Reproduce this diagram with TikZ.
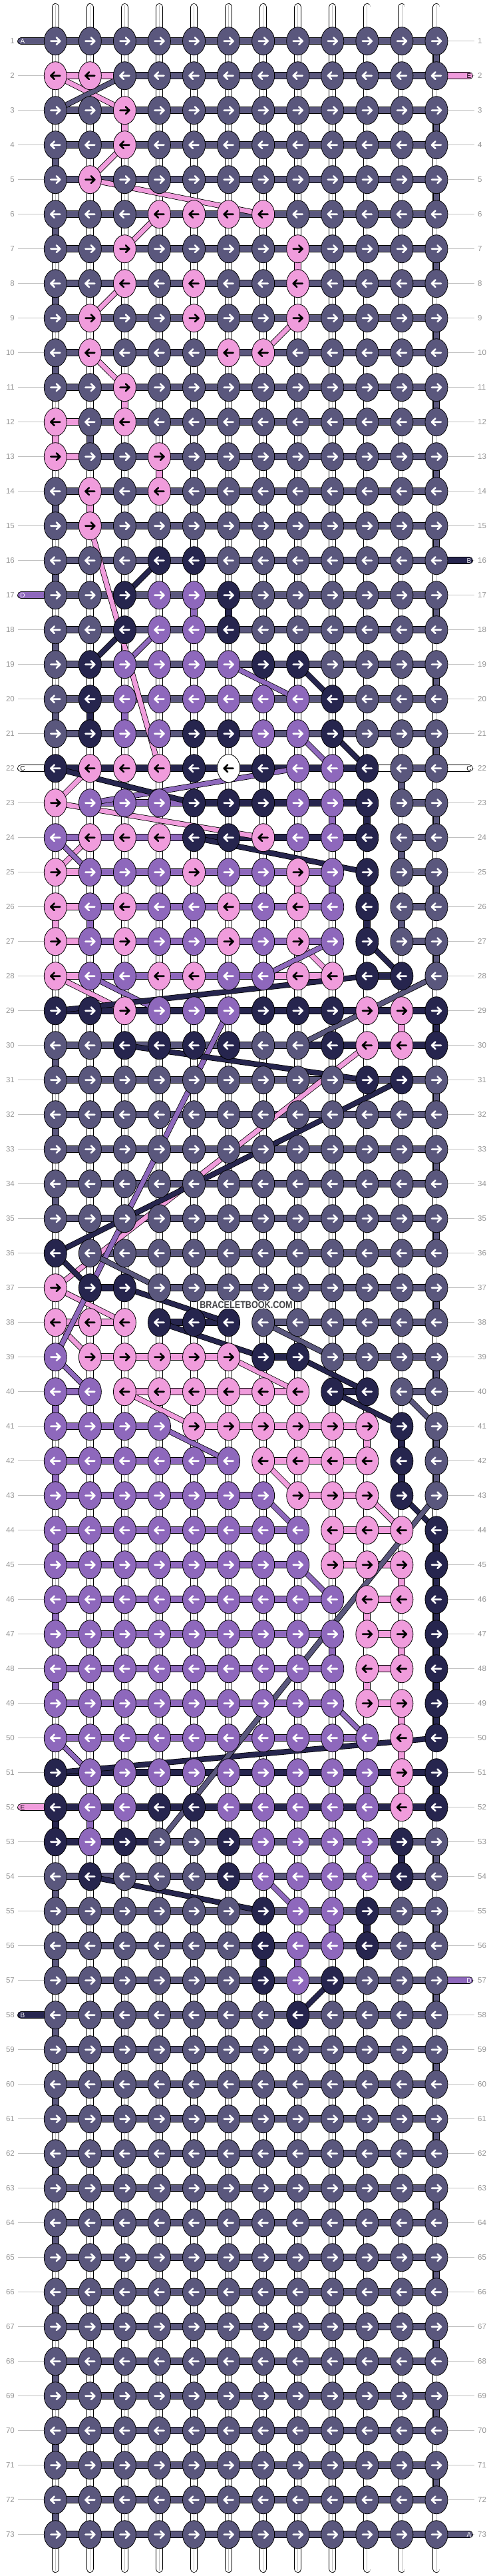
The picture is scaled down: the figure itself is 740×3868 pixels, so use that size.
\documentclass[tikz,border=0pt]{standalone}
\usepackage{fontspec}
\setmainfont{Liberation Sans}
\usetikzlibrary{shapes.geometric}
\pgfdeclarelayer{bg}
\pgfdeclarelayer{bands}
\pgfdeclarelayer{conns}
\pgfsetlayers{bg,bands,conns,main}

\definecolor{cA}{RGB}{90,87,125}
\definecolor{cB}{RGB}{38,37,78}
\definecolor{cC}{RGB}{255,255,255}
\definecolor{cD}{RGB}{142,104,188}
\definecolor{cE}{RGB}{240,156,220}
\colorlet{tA}{white}\colorlet{tB}{white}\colorlet{tC}{black}\colorlet{tD}{white}\colorlet{tE}{black}
\definecolor{labgray}{RGB}{150,150,150}
\definecolor{linegray}{RGB}{192,192,192}
\definecolor{wmgray}{RGB}{66,66,70}

\makeatletter
\newcount\gcol
\def\storerow#1#2{\global\gcol=0 \xdef\cur@row{#1}\store@aux#2\@nil}
\def\store@aux#1{\ifx#1\@nil\let\next@s\relax\else\global\advance\gcol by 1 \expandafter\xdef\csname K-\cur@row-\the\gcol\endcsname{#1}\let\next@s\store@aux\fi\next@s}
\makeatother

\storerow{1}{AAAAAAAAAAAA}
\storerow{2}{EEAAAAAAAAAA}
\storerow{3}{AAEAAAAAAAAA}
\storerow{4}{AAEAAAAAAAAA}
\storerow{5}{AEAAAAAAAAAA}
\storerow{6}{AAAEEEEAAAAA}
\storerow{7}{AAEAAAAEAAAA}
\storerow{8}{AAEAEAAEAAAA}
\storerow{9}{AEAAEAAEAAAA}
\storerow{10}{AEAAAEEAAAAA}
\storerow{11}{AAEAAAAAAAAA}
\storerow{12}{EAEAAAAAAAAA}
\storerow{13}{EAAEAAAAAAAA}
\storerow{14}{AEAEAAAAAAAA}
\storerow{15}{AEAAAAAAAAAA}
\storerow{16}{AAABBAAAAAAA}
\storerow{17}{AABDDBAAAAAA}
\storerow{18}{AABDDBAAAAAA}
\storerow{19}{ABDDDDBBAAAA}
\storerow{20}{ABDDDDDDBAAA}
\storerow{21}{ABDDBBDDBAAA}
\storerow{22}{BEEEBCBDDBAA}
\storerow{23}{EDDDBBBDDBAA}
\storerow{24}{DEEEBBEDDBAA}
\storerow{25}{EDDDEDDEDBAA}
\storerow{26}{EDEDDEDEDBAA}
\storerow{27}{EDEDDEDEDBAA}
\storerow{28}{EDDEEDDEEBBA}
\storerow{29}{BBEDDDBBBEEB}
\storerow{30}{AABBBBAABEEB}
\storerow{31}{AAAAAAAAABBA}
\storerow{32}{AAAAAAAAAAAA}
\storerow{33}{AAAAAAAAAAAA}
\storerow{34}{AAAAAAAAAAAA}
\storerow{35}{AAAAAAAAAAAA}
\storerow{36}{BAAAAAAAAAAA}
\storerow{37}{EBBAAAAAAAAA}
\storerow{38}{EEEBBBAAAAAA}
\storerow{39}{DEEEEEBBAAAA}
\storerow{40}{DDEEEEEEBBAA}
\storerow{41}{DDDDEEEEEEBA}
\storerow{42}{DDDDDDEEEEBA}
\storerow{43}{DDDDDDDEEEBA}
\storerow{44}{DDDDDDDDEEEB}
\storerow{45}{DDDDDDDDEEEB}
\storerow{46}{DDDDDDDDDEEB}
\storerow{47}{DDDDDDDDDEEB}
\storerow{48}{DDDDDDDDDEEB}
\storerow{49}{DDDDDDDDDEEB}
\storerow{50}{DDDDDDDDDDEB}
\storerow{51}{BDDDDDDDDDEB}
\storerow{52}{BDDBBDDDDDEB}
\storerow{53}{BDBAABDDDDBA}
\storerow{54}{ABAAABDDDDBA}
\storerow{55}{AAAAAABDDBAA}
\storerow{56}{AAAAAABDDBAA}
\storerow{57}{AAAAAABDBAAA}
\storerow{58}{AAAAAAABAAAA}
\storerow{59}{AAAAAAAAAAAA}
\storerow{60}{AAAAAAAAAAAA}
\storerow{61}{AAAAAAAAAAAA}
\storerow{62}{AAAAAAAAAAAA}
\storerow{63}{AAAAAAAAAAAA}
\storerow{64}{AAAAAAAAAAAA}
\storerow{65}{AAAAAAAAAAAA}
\storerow{66}{AAAAAAAAAAAA}
\storerow{67}{AAAAAAAAAAAA}
\storerow{68}{AAAAAAAAAAAA}
\storerow{69}{AAAAAAAAAAAA}
\storerow{70}{AAAAAAAAAAAA}
\storerow{71}{AAAAAAAAAAAA}
\storerow{72}{AAAAAAAAAAAA}
\storerow{73}{AAAAAAAAAAAA}

\newcount\tmin \newcount\tmax \newcount\prr \newcount\prc \newcount\tfc \newcount\tlc

\newcommand\threadrow[1]{%
  \edef\fcol{\the\tfc}\edef\lcol{\the\tlc}%
  \ifnum\prr=0
    \ifodd\ri\relax\def\sidemark{L}\else\def\sidemark{R}\fi
    \begin{pgfonlayer}{bands}
      \draw[band, double=c#1, line cap=round] (\sidemark-\ri) -- (k-\ri-\fcol.center);
    \end{pgfonlayer}
    \node[taillab, text=t#1] at (\sidemark lab-\ri) {#1};
  \else
    \edef\ppr{\the\prr}\edef\ppc{\the\prc}%
    \def\cwid{6.8pt}%
    \ifnum\numexpr\prr+1\relax=\ri\relax\ifnum\prc=\tfc\def\cwid{8.9pt}\fi\fi
    \begin{pgfonlayer}{conns}
      \draw[conn, double=c#1, double distance=\cwid] (k-\ppr-\ppc.center) -- (k-\ri-\fcol.center);
    \end{pgfonlayer}
  \fi
  \ifnum\tfc=\tlc\else
    \begin{pgfonlayer}{bands}
      \draw[band, double=c#1] (k-\ri-\fcol.center) -- (k-\ri-\lcol.center);
    \end{pgfonlayer}
  \fi
  \global\prr=\ri\relax\global\prc=\tlc
}

\newcommand\threadend[1]{%
  \edef\ppr{\the\prr}\edef\ppc{\the\prc}%
  \ifodd\prr\def\sidemark{R}\else\def\sidemark{L}\fi
  \begin{pgfonlayer}{bands}
    \draw[band, double=c#1, line cap=round] (k-\ppr-\ppc.center) -- (\sidemark-\ppr);
  \end{pgfonlayer}
  \node[taillab, text=t#1] at (\sidemark lab-\ppr) {#1};
}

\newcommand\dothread[1]{%
  \global\prr=0 \global\prc=0
  \foreach \ri in {1,...,73}{%
    \global\tmin=0 \global\tmax=0
    \foreach \ci in {1,...,12}{%
      \edef\kk{\csname K-\ri-\ci\endcsname}%
      \if\kk#1\relax
        \ifnum\tmin=0 \global\tmin=\ci\relax\fi
        \global\tmax=\ci\relax
      \fi
    }%
    \ifnum\tmin>0
      \ifodd\ri\relax\global\tfc=\tmin\global\tlc=\tmax\else\global\tfc=\tmax\global\tlc=\tmin\fi
      \threadrow{#1}%
    \fi
  }%
  \threadend{#1}%
}

\tikzset{
  knot/.style={ellipse, draw=black, line width=0.8pt, minimum width=34pt, minimum height=42pt, inner sep=0pt},
  band/.style={draw=black, line width=0.8pt, double distance=9.2pt},
  conn/.style={draw=black, line width=0.8pt},
  arrowline/.style={line width=2.6pt, line cap=round, line join=round},
  taillab/.style={font=\fontsize{10}{10}\selectfont, inner sep=0pt},
  rowlab/.style={font=\fontsize{11.5}{12}\selectfont, text=labgray, inner sep=0pt},
  wm/.style={font=\bfseries\fontsize{15}{15}\selectfont, inner sep=0pt},
}

\begin{document}
\begin{tikzpicture}[x=1pt,y=-1pt]
\path[use as bounding box] (0,0) rectangle (740,3868);

% base strings
\begin{pgfonlayer}{bg}
\foreach \ci in {1,...,12}{%
  \pgfmathsetmacro\xx{83.3+52.06*(\ci-1)}
  \draw[line width=0.8pt, draw=black, double=white, double distance=9.4pt, line cap=round] (\xx,10.5) -- (\xx,3857.5);
  \draw[line width=0.8pt, draw=black!25] (\xx,8) -- (\xx,3860);
}
\end{pgfonlayer}

% knots, labels
\foreach \ri in {1,...,73}{%
  \pgfmathsetmacro\yy{61.7+52*(\ri-1)}
  \coordinate (L-\ri) at (31.5,\yy);
  \coordinate (R-\ri) at (705.5,\yy);
  \coordinate (Llab-\ri) at (34,\yy);
  \coordinate (Rlab-\ri) at (705,\yy);
  \begin{pgfonlayer}{bg}
    \draw[linegray, line width=1pt] (27,\yy) -- (66,\yy) (674,\yy) -- (713,\yy);
  \end{pgfonlayer}
  \node[rowlab, anchor=east] (ll-\ri) at (22,\yy) {\ri};
  \node[rowlab, anchor=west] (rl-\ri) at (718,\yy) {\ri};
  \foreach \ci in {1,...,12}{%
    \pgfmathsetmacro\xx{83.3+52.06*(\ci-1)}
    \edef\kk{\csname K-\ri-\ci\endcsname}%
    \node[knot, fill=c\kk] (k-\ri-\ci) at (\xx,\yy) {};
    \ifodd\ri\relax
      \draw[arrowline, draw=t\kk, shift={(k-\ri-\ci.center)}] (-7,0) -- (7,0) (1.5,-5.3) -- (7,0) -- (1.5,5.3);
    \else
      \draw[arrowline, draw=t\kk, shift={(k-\ri-\ci.center)}] (7,0) -- (-7,0) (-1.5,-5.3) -- (-7,0) -- (-1.5,5.3);
    \fi
  }%
}

% threads, bottom to top
\dothread{C}
\dothread{E}
\dothread{D}
\dothread{B}
\dothread{A}

% watermark
\foreach \dx/\dy in {-1/0,1/0,0/-1,0/1,-1/-1,1/1,-1/1,1/-1}{%
  \node[wm, text=white] at (370+\dx,1959+\dy) {\scalebox{0.84}[1]{BRACELETBOOK.COM}};
}
\node[wm, text=wmgray] (wm) at (370,1959) {\scalebox{0.84}[1]{BRACELETBOOK.COM}};
\end{tikzpicture}
\end{document}
